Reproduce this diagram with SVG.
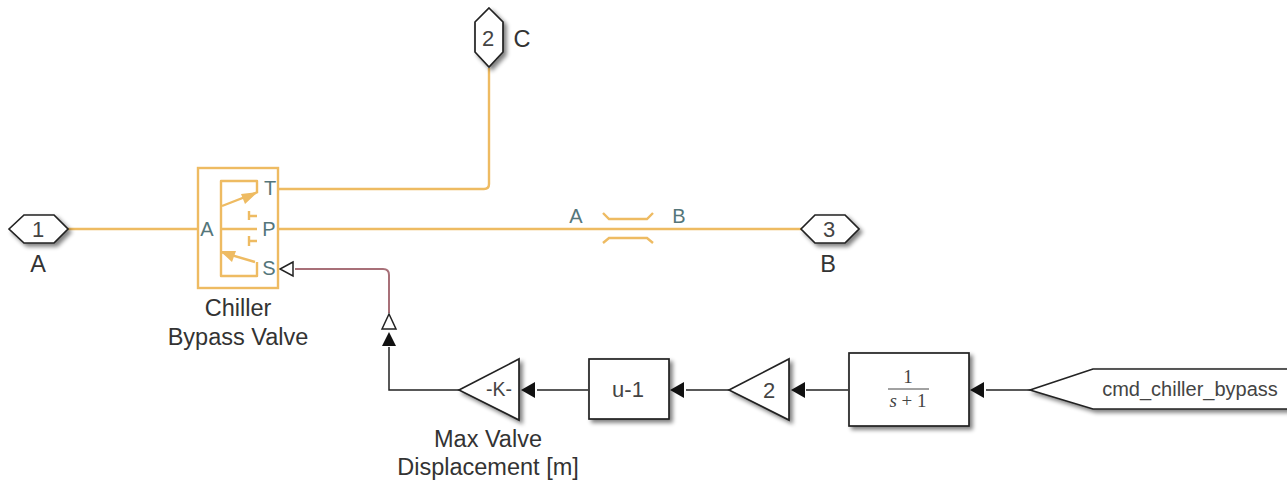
<svg xmlns="http://www.w3.org/2000/svg" width="1287" height="480" viewBox="0 0 1287 480">
<defs>
<filter id="sh" x="-30%" y="-30%" width="170%" height="170%"><feGaussianBlur in="SourceAlpha" stdDeviation="2.2"/><feOffset dx="3" dy="3"/><feComponentTransfer><feFuncA type="linear" slope="0.5"/></feComponentTransfer><feMerge><feMergeNode/><feMergeNode in="SourceGraphic"/></feMerge></filter>
</defs>
<style>
text{font-family:"Liberation Sans",Arial,sans-serif}
.lbl{font-size:23.5px;fill:#333;text-anchor:middle}
.blk{fill:#fff;stroke:#222;stroke-width:1.7;filter:url(#sh)}
.in{font-size:22px;fill:#444;text-anchor:middle}
.port{font-size:20px;fill:#55767a;text-anchor:middle}
.phys{fill:none;stroke:#eebb62;stroke-width:2.4;stroke-linejoin:round}
.sig{fill:none;stroke:#222;stroke-width:1.5}
.serif{font-family:"Liberation Serif",serif;font-size:19px;fill:#444;text-anchor:middle}
</style>
<rect width="1287" height="480" fill="#fff"/>
<g id="connectors">
<path class="phys" d="M68 229H198"/>
<path class="phys" d="M279 189H484Q489 189 489 184V68"/>
<path class="phys" d="M279 229H802"/>
<path d="M295 269H383Q389 269 389 275V313" fill="none" stroke="#a87078" stroke-width="2"/>
<path class="sig" d="M459 390H389V347"/>
<path d="M382 346L389 332L396 346Z" fill="#111"/>
<path d="M382 329L389 314L396 329Z" fill="#fff" stroke="#222" stroke-width="1.5"/>
<path d="M293 262L280 269L293 276Z" fill="#fff" stroke="#222" stroke-width="1.5"/>
<path class="sig" d="M588 390H537"/><path d="M535 382L521 390L535 398Z" fill="#111"/>
<path class="sig" d="M729 390H686"/><path d="M684 382L670 390L684 398Z" fill="#111"/>
<path class="sig" d="M848 390H806"/><path d="M805 382L791 390L805 398Z" fill="#111"/>
<path class="sig" d="M1030 390H986"/><path d="M984 382L970 390L984 398Z" fill="#111"/>
</g>
<g id="port1"><path class="blk" d="M9 229L24 215H54L68 229L54 243H24Z"/><text class="in" x="38" y="237">1</text><text class="lbl" x="38" y="272">A</text></g>
<g id="port2"><path class="blk" d="M489 8L503 22V52L489 67L475 52V22Z"/><text class="in" x="488" y="46">2</text><text class="lbl" x="522" y="47">C</text></g>
<g id="port3"><path class="blk" d="M801 229L815 215H845L859 229L845 243H815Z"/><text class="in" x="829" y="237">3</text><text class="lbl" x="828" y="272">B</text></g>
<g id="valve">
<rect x="198" y="168" width="80" height="120" fill="#fff" stroke="#eebb62" stroke-width="2.4"/>
<path class="phys" d="M257 192V181H221V276H257V262M221 229H257"/>
<path class="phys" d="M222 206L258 192M255 262L221 252"/>
<path d="M258 192L241 194L245 204Z M220 251L236 251L232 262Z" fill="#eebb62"/>
<path class="phys" d="M249 216H257M249 211V220M249 241H257M249 236V246"/>
<text class="port" x="207" y="236">A</text><text class="port" x="270" y="195">T</text><text class="port" x="269" y="236">P</text><text class="port" x="269" y="275">S</text>
<text class="lbl" x="238" y="316">Chiller</text><text class="lbl" x="238" y="345">Bypass Valve</text>
</g>
<g id="orifice">
<path d="M603 213L609 219H647L653 213M603 243L609 238H647L653 243" fill="none" stroke="#eebb62" stroke-width="2.4"/>
<text class="port" x="576" y="223">A</text><text class="port" x="679" y="223">B</text>
</g>
<g id="gain-k"><path class="blk" d="M459 390L519 359V420Z"/><text class="in" x="499" y="396" style="font-size:19.5px">-K-</text><text class="lbl" x="488" y="447">Max Valve</text><text class="lbl" x="488" y="475">Displacement [m]</text></g>
<g id="fcn"><rect class="blk" x="589" y="359" width="80" height="60"/><text class="in" x="628" y="397">u-1</text></g>
<g id="gain-2"><path class="blk" d="M729 390L789 359V420Z"/><text class="in" x="769" y="398">2</text></g>
<g id="tf"><rect class="blk" x="849" y="353" width="120" height="73"/>
<text class="serif" x="908" y="383">1</text>
<path d="M888 389H929" stroke="#444" stroke-width="1"/>
<text class="serif" x="908" y="407"><tspan font-style="italic">s</tspan> + 1</text></g>
<g id="from"><path class="blk" d="M1030 390L1093 369H1295V409H1093Z"/><text x="1190" y="396" font-size="20" fill="#444" text-anchor="middle">cmd_chiller_bypass</text></g>
</svg>
